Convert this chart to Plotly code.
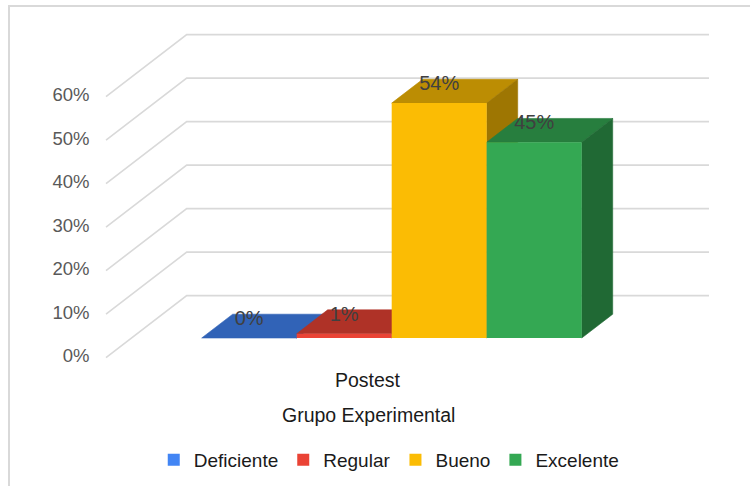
import plotly.graph_objects as go

# ---------------- data ----------------
categories = ["Postest"]
axis_title = "Grupo Experimental"
series = ["Deficiente", "Regular", "Bueno", "Excelente"]
values = [0, 1, 54, 45]
value_labels = ["0%", "1%", "54%", "45%"]
y_ticks = [0, 10, 20, 30, 40, 50, 60]
y_tick_labels = ["0%", "10%", "20%", "30%", "40%", "50%", "60%"]
colors = ["#4285F4", "#EA4335", "#FBBC04", "#34A853"]

# ---------------- layout / projection constants ----------------
W, H = 750, 486
PX_X = 95.0          # pixels per bar-width unit
PX_Y = 4.35          # pixels per percentage point
ORIGIN_X_PX = 223.7  # pixel of X=0 at front plane
ORIGIN_Y_PX = 357.6  # pixel of Y=0 at front plane
DX = 80.7 / PX_X     # depth offset (x units) for full depth
DY = 62.0 / PX_Y     # depth offset (y units) for full depth
Z1, Z2 = 0.316, 0.70 # bar front / back depth
WALL_XL = (106 - ORIGIN_X_PX) / PX_X
WALL_XR = (709 - ORIGIN_X_PX) / PX_X - DX
TICK_X = (89.5 - ORIGIN_X_PX) / PX_X
LABEL_OFFSET = 18 / PX_Y

x_range = [-ORIGIN_X_PX / PX_X, (W - ORIGIN_X_PX) / PX_X]
y_range = [(ORIGIN_Y_PX - H) / PX_Y, ORIGIN_Y_PX / PX_Y]


def proj(X, Y, Z):
    return X + Z * DX, Y + Z * DY


def shade(hex_color, f):
    h = hex_color.lstrip("#")
    r, g, b = (int(h[i:i + 2], 16) for i in (0, 2, 4))
    return "rgb(%d,%d,%d)" % (r * f, g * f, b * f)


FONT = "Liberation Sans, Arial, sans-serif"
fig = go.Figure()

# gridlines: front-left diagonal then back wall
gx, gy = [], []
for v in y_ticks:
    for (X, Z) in [(WALL_XL, 0), (WALL_XL, 1), (WALL_XR, 1)]:
        px, py = proj(X, v, Z)
        gx.append(px)
        gy.append(py)
    gx.append(None)
    gy.append(None)
fig.add_trace(go.Scatter(x=gx, y=gy, mode="lines", line=dict(color="#D9D9D9", width=1.6),
                         hoverinfo="skip", showlegend=False))

# top and side faces (painter's order, left to right)
for i, (name, v, c) in enumerate(zip(series, values, colors)):
    top = [proj(i - 0.5, v, Z1), proj(i + 0.5, v, Z1), proj(i + 0.5, v, Z2), proj(i - 0.5, v, Z2)]
    side = [proj(i + 0.5, 0, Z1), proj(i + 0.5, v, Z1), proj(i + 0.5, v, Z2), proj(i + 0.5, 0, Z2)]
    for pts, f in [(top, 0.75), (side, 0.63)]:
        col = shade(c, f)
        fig.add_trace(go.Scatter(
            x=[p[0] for p in pts] + [pts[0][0]], y=[p[1] for p in pts] + [pts[0][1]],
            mode="lines", fill="toself", fillcolor=col, line=dict(color=col, width=0.6),
            hoverinfo="skip", showlegend=False))

# front faces as bars on an overlaying subplot (drawn above the faces)
for i, (name, v, c) in enumerate(zip(series, values, colors)):
    fx, fbase = proj(i, 0, Z1)
    fig.add_trace(go.Bar(x=[fx], y=[v], base=[fbase], width=1, name=name,
                         marker=dict(color=c, line=dict(width=0)),
                         xaxis="x2", yaxis="y2", hoverinfo="skip"))

# y tick labels
fig.add_trace(go.Scatter(x=[TICK_X] * len(y_ticks), y=y_ticks, mode="text", text=y_tick_labels,
                         textposition="middle left",
                         textfont=dict(family=FONT, size=18.5, color="#595959"),
                         xaxis="x2", yaxis="y2", hoverinfo="skip", showlegend=False))

# data labels
lx, ly = [], []
for i, v in enumerate(values):
    px, py = proj(i, v, Z1)
    lx.append(px)
    ly.append(py + LABEL_OFFSET)
fig.add_trace(go.Scatter(x=lx, y=ly, mode="text", text=value_labels, textposition="middle center",
                         textfont=dict(family=FONT, size=20, color="#404040"),
                         xaxis="x2", yaxis="y2", hoverinfo="skip", showlegend=False))

axis_common = dict(visible=False, fixedrange=True, showgrid=False, zeroline=False)
fig.update_layout(
    width=W, height=H,
    margin=dict(l=0, r=0, t=0, b=0),
    paper_bgcolor="white", plot_bgcolor="rgba(0,0,0,0)",
    barmode="overlay",
    xaxis=dict(range=x_range, domain=[0, 1], **axis_common),
    yaxis=dict(range=y_range, domain=[0, 1], **axis_common),
    xaxis2=dict(range=x_range, overlaying="x", **axis_common),
    yaxis2=dict(range=y_range, overlaying="y", **axis_common),
    showlegend=True,
    legend=dict(orientation="h", x=0.519, xanchor="center", y=1 - 460 / H, yanchor="middle",
                font=dict(family=FONT, size=19, color="#1a1a1a"), itemwidth=30,
                bgcolor="rgba(0,0,0,0)"),
    shapes=[dict(type="rect", xref="paper", yref="paper", x0=9 / W, x1=1.02,
                 y0=-0.02, y1=1 - 6 / H, line=dict(color="#D9D9D9", width=2))],
    annotations=[
        dict(text=categories[0], xref="paper", yref="paper", x=368 / W, y=1 - 380 / H,
             showarrow=False, xanchor="center", yanchor="middle",
             font=dict(family=FONT, size=19.5, color="#1a1a1a")),
        dict(text=axis_title, xref="paper", yref="paper", x=368.5 / W, y=1 - 415 / H,
             showarrow=False, xanchor="center", yanchor="middle",
             font=dict(family=FONT, size=19.5, color="#1a1a1a")),
    ],
)

fig.write_html("out.html")
